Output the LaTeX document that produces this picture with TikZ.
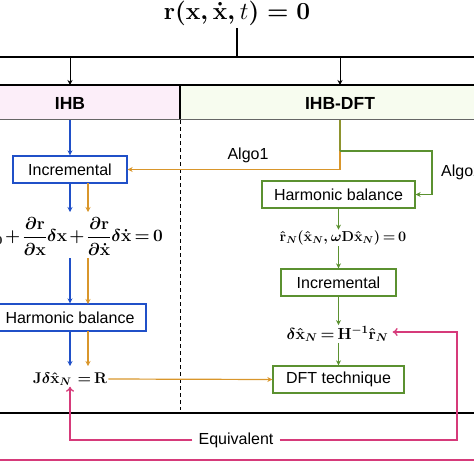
\RequirePackage{fix-cm}
\documentclass[tikz,border=0pt]{standalone}
\usepackage{amsmath,amssymb}
\usepackage[no-math]{fontspec}
\setmainfont{Liberation Sans}
\usetikzlibrary{arrows.meta,calc}
\definecolor{cblue}{HTML}{2050C8}
\definecolor{corange}{HTML}{D9962B}
\definecolor{cgreen}{HTML}{5B9130}
\definecolor{cpink}{HTML}{D63A7A}
\definecolor{fpink}{HTML}{FCEEF9}
\definecolor{fgreen}{HTML}{F7FCEF}
\newcommand{\tightmath}{\medmuskip=2mu plus 1mu\thickmuskip=3mu plus 2mu}
\tikzset{
  lbl/.style={font=\fontsize{16}{19}\selectfont, inner sep=0pt},
  hdr/.style={font=\fontsize{17.5}{20}\selectfont\bfseries, inner sep=0pt},
  eqn/.style={font=\fontsize{#1}{19}\selectfont\boldmath\tightmath, inner sep=1pt},
  eqn/.default=15,
  bbox/.style={draw=cblue, line width=1.3pt, minimum height=27pt, inner sep=0pt, font=\fontsize{16}{19}\selectfont},
  gbox/.style={draw=cgreen, line width=1.3pt, minimum height=27pt, inner sep=0pt, font=\fontsize{16}{19}\selectfont},
  tip/.style={-{Stealth[length=5pt,width=5pt]}},
  barrow/.style={tip, draw=cblue, line width=1.1pt},
  oarrow/.style={tip, draw=corange, line width=1.2pt},
  garrow/.style={tip, draw=cgreen, line width=1.2pt},
  parrow/.style={-{To[length=5pt,width=8pt]}, draw=cpink, line width=1.3pt},
  karrow/.style={tip, draw=black, line width=0.9pt},
}
\begin{document}
\begin{tikzpicture}[x=1pt,y=-1pt]
\useasboundingbox (0,0) rectangle (474,474);
% header bands
\fill[fpink] (0,85) rectangle (180,119);
\fill[fgreen] (180,85) rectangle (474,119);
\draw[line width=1.3pt] (0,85) -- (474,85);
\draw[line width=0.8pt, black!60] (0,119.5) -- (474,119.5);
\draw[line width=1.1pt] (180,85) -- (180,119);
\node[hdr] (ihb) at (70,103) {IHB};
\node[hdr] (ihbdft) at (340,103) {IHB-DFT};
% title
\node[font=\fontsize{24.5}{28}\selectfont\boldmath, inner sep=1pt] (title) at (237,13) {$\mathbf{r}(\mathbf{x},\dot{\mathbf{x}},\mbox{\unboldmath$t$})=\mathbf{0}$};
\coordinate (tj) at (237,57);
\coordinate (ta) at (70,57);
\coordinate (tb) at (340,57);
\draw[line width=1.1pt] (237,28) -- (tj);
\draw[line width=1.3pt] (0,57) -- (474,57);
\draw[karrow] (ta) -- (70,85);
\draw[karrow] (tb) -- (340,85);
% dashed divider and bottom lines
\draw[line width=1pt, dash pattern=on 4pt off 3pt] (180,120) -- (180,410);
\draw[line width=1.5pt] (0,413) -- (474,413);
\draw[line width=1.2pt, cpink] (0,460) -- (474,460);
% left column
\node[bbox, minimum width=114pt] (inc1) at (70,169.5) {Incremental};
\node[eqn=17.3, anchor=east] (eq1) at (164,236) {$\mathbf{r}_0+\dfrac{\partial\mathbf{r}}{\partial\mathbf{x}}\delta\mathbf{x}+\dfrac{\partial\mathbf{r}}{\partial\dot{\mathbf{x}}}\delta\dot{\mathbf{x}}=\mathbf{0}$};
\node[bbox, minimum width=152pt] (hb1) at (70,317.5) {Harmonic balance};
\node[eqn=15.5] (eq2) at (70,379) {$\mathbf{J}\delta\hat{\mathbf{x}}_N\;=\mathbf{R}$};
\draw[barrow] (70,120) -- (inc1.north);
\draw[barrow] (inc1.south) -- (70,212);
\draw[oarrow] (88,183) -- (88,212);
\draw[barrow] (70,258) -- (hb1.north);
\draw[oarrow] (88,258) -- (88,304);
\draw[barrow] (hb1.south) -- (70,366);
\draw[oarrow] (88,331) -- (88,366);
% right column
\node[gbox, minimum width=153pt] (hb2) at (338.5,194.5) {Harmonic balance};
\node[eqn=14.4] (eq3) at (343,238) {$\hat{\mathbf{r}}_N(\hat{\mathbf{x}}_N,\omega\mathbf{D}\hat{\mathbf{x}}_N)=\mathbf{0}$};
\node[gbox, minimum width=115pt] (inc2) at (338.5,282.5) {Incremental};
\node[eqn=16] (eq4) at (337.5,334) {$\delta\hat{\mathbf{x}}_N=\mathbf{H}^{-1}\hat{\mathbf{r}}_N$};
\node[gbox, minimum width=131pt] (dft) at (338.5,379.5) {DFT technique};
\coordinate (sj) at (340,151);
\coordinate (oj) at (340,169.5);
\coordinate (gr) at (432,151);
\draw[line width=1.2pt, cgreen!60!corange] (340,120) -- (sj);
\draw[line width=1.2pt, corange] (sj) -- (oj);
\draw[oarrow] (oj) -- (inc1.east);
\draw[garrow] (sj) -- (gr) |- (hb2.east);
\node[lbl] (algo1) at (248,155) {Algo1};
\node[lbl, anchor=west] (algo2) at (441,172) {Algo2};
\draw[garrow] (hb2.south) -- (hb2.south |- eq3.north);
\draw[garrow] (inc2.north |- eq3.south) -- (inc2.north);
\draw[garrow] (inc2.south) -- (inc2.south |- eq4.north);
\draw[garrow] (dft.north |- eq4.south) -- (dft.north);
\draw[oarrow] (eq2.east) -- (dft.west);
% equivalent loop
\node[lbl] (equiv) at (236,440) {Equivalent};
\coordinate (pr) at (457,440);
\draw[parrow] (equiv.east) ++(6,0) -- (pr) |- ($(eq4.east)+(3,-2)$);
\draw[parrow] (equiv.west) ++(-6,0) -| (eq2.south);
\end{tikzpicture}
\end{document}
